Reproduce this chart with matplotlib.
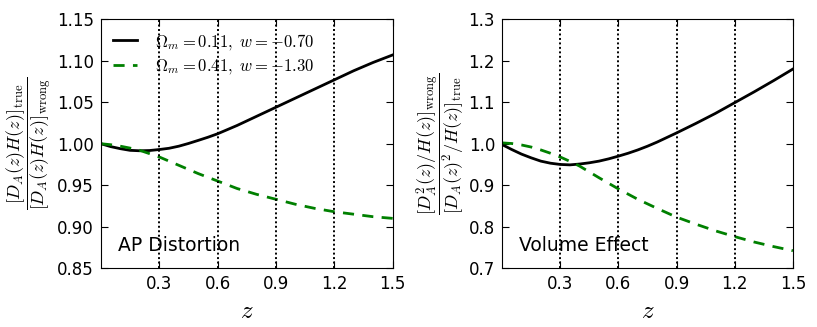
import numpy as np
import matplotlib
matplotlib.use("Agg")
import matplotlib.pyplot as plt

# --- data ---
z = [0.0, 0.05, 0.1, 0.15, 0.2, 0.25, 0.3, 0.35, 0.4, 0.45, 0.5, 0.55, 0.6, 0.65,
     0.7, 0.75, 0.8, 0.85, 0.9, 0.95, 1.0, 1.05, 1.1, 1.15, 1.2, 1.25, 1.3, 1.35,
     1.4, 1.45, 1.5]

ap_low = [1.000, 0.9965, 0.994, 0.992, 0.9915, 0.9918, 0.993, 0.9945, 0.997, 1.0003,
          1.004, 1.0078, 1.012, 1.017, 1.022, 1.0275, 1.033, 1.0385, 1.044, 1.0495,
          1.055, 1.0605, 1.066, 1.0715, 1.077, 1.0825, 1.088, 1.093, 1.098, 1.1025,
          1.107]
ap_high = [1.000, 0.9988, 0.997, 0.9947, 0.992, 0.988, 0.984, 0.979, 0.974, 0.969,
           0.964, 0.9595, 0.955, 0.9505, 0.946, 0.9425, 0.939, 0.936, 0.933, 0.930,
           0.927, 0.9245, 0.922, 0.920, 0.918, 0.9165, 0.915, 0.9135, 0.912, 0.911,
           0.910]

vol_low = [0.998, 0.986, 0.975, 0.966, 0.958, 0.953, 0.950, 0.949, 0.951, 0.954,
           0.958, 0.9635, 0.970, 0.977, 0.985, 0.994, 1.004, 1.015, 1.026, 1.0375,
           1.049, 1.061, 1.073, 1.086, 1.099, 1.112, 1.125, 1.1385, 1.152, 1.166,
           1.180]
vol_high = [1.002, 1.0005, 0.997, 0.992, 0.985, 0.977, 0.968, 0.9575, 0.946, 0.932,
            0.918, 0.9045, 0.891, 0.8785, 0.866, 0.855, 0.844, 0.8335, 0.823, 0.8145,
            0.806, 0.798, 0.790, 0.783, 0.776, 0.7695, 0.763, 0.7575, 0.752, 0.747,
            0.742]

labels = [r'$\Omega_m=0.11,\ w=-0.70$', r'$\Omega_m=0.41,\ w=-1.30$']
z_marks = [0.3, 0.6, 0.9, 1.2]
x_ticks = [0.3, 0.6, 0.9, 1.2, 1.5]

plt.rcParams['mathtext.fontset'] = 'cm'
plt.rcParams['font.family'] = 'DejaVu Sans'

fig = plt.figure(figsize=(8.17, 3.27), dpi=100)
ax1 = fig.add_axes([0.1236, 0.180, 0.357, 0.761])
ax2 = fig.add_axes([0.6145, 0.180, 0.356, 0.761])

panels = [
    (ax1, ap_low, ap_high, (0.85, 1.15), np.arange(0.85, 1.151, 0.05), '%.2f',
     r'$\dfrac{[D_A(z)H(z)]_{\rm true}}{[D_A(z)H(z)]_{\rm wrong}}$', 'AP Distortion'),
    (ax2, vol_low, vol_high, (0.7, 1.3), np.arange(0.7, 1.301, 0.1), '%.1f',
     r'$\dfrac{[D_A^2(z)/H(z)]_{\rm wrong}}{[D_A(z)^2/H(z)]_{\rm true}}$', 'Volume Effect'),
]

for ax, lo, hi, ylim, yt, fmt, ylab, name in panels:
    ax.plot(z, lo, color='black', lw=2, label=labels[0])
    ax.plot(z, hi, color='green', lw=2, ls='--', dashes=(4, 3), label=labels[1])
    for zm in z_marks:
        ax.axvline(zm, color='black', ls=(0, (1, 1.3)), lw=1.4, zorder=5)
    ax.set_xlim(0, 1.5)
    ax.set_ylim(*ylim)
    ax.set_xticks(x_ticks)
    ax.set_yticks(yt)
    ax.set_yticklabels([fmt % v for v in yt])
    ax.tick_params(direction='in', top=True, right=True, labelsize=12, length=5, pad=5)
    ax.set_xlabel(r'$z$', fontsize=18)
    ax.set_ylabel(ylab, fontsize=13, labelpad=2)
    ax.text(0.06, 0.09, name, transform=ax.transAxes, fontsize=13.5, va='center')

ax1.legend(loc='upper left', frameon=False, fontsize=12, handlelength=1.4,
           borderaxespad=0.35, labelspacing=0.3, handletextpad=1.1)

fig.savefig('out.png', dpi=100)
